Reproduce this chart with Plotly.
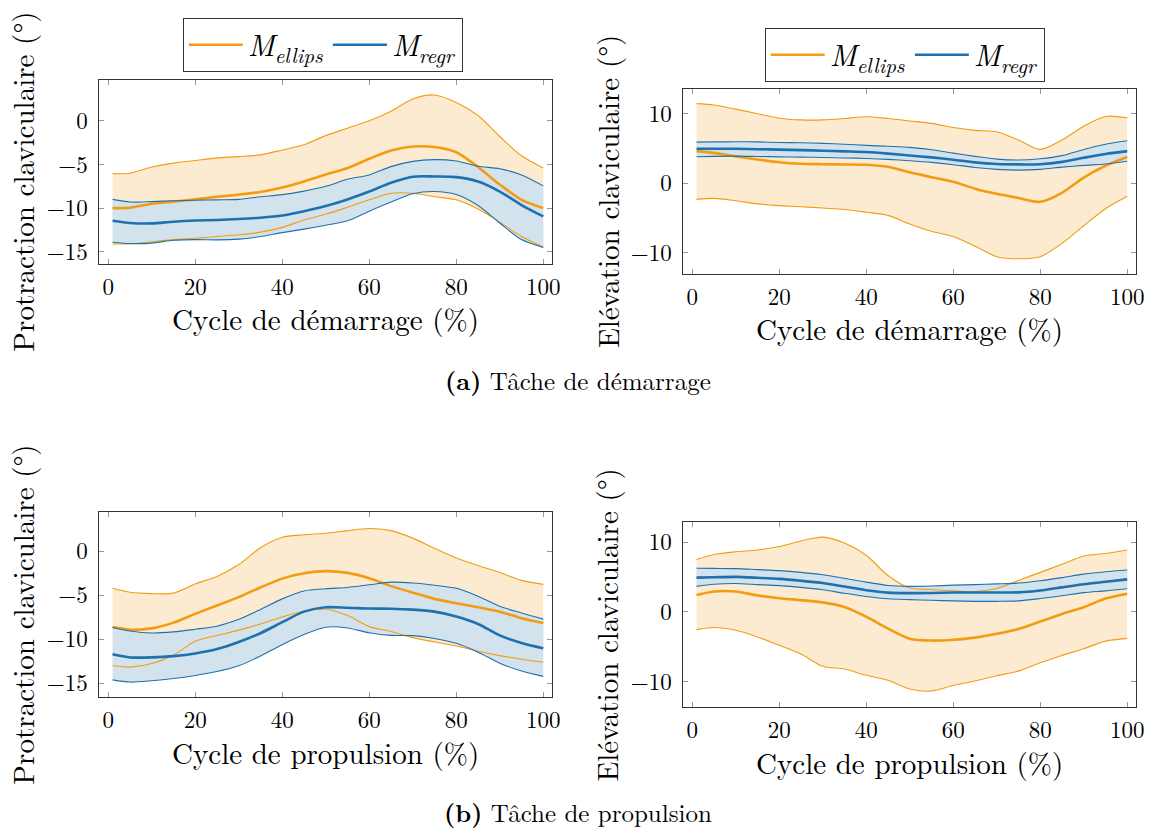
import plotly.graph_objects as go

# Percent of cycle where the curves are sampled
cycle = [1, 5, 10, 15, 20, 25, 30, 35, 40, 45, 50, 55, 60, 65, 70, 75, 80, 85, 90, 95, 100]

# (a) start-up task: clavicular protraction (deg)
dem_prot_ell_mean = [-10.0, -9.95, -9.5, -9.25, -9.0, -8.7, -8.45, -8.15, -7.65, -6.95, -6.15, -5.4, -4.35, -3.4, -2.95, -3.0, -3.6, -5.3, -7.3, -9.05, -10.0]
dem_prot_ell_up = [-6.05, -6.0, -5.3, -4.85, -4.55, -4.25, -4.1, -3.9, -3.35, -2.75, -1.7, -0.85, 0.0, 1.1, 2.5, 2.95, 2.1, 0.6, -1.8, -4.0, -5.4]
dem_prot_ell_lo = [-14.1, -14.1, -13.85, -13.6, -13.45, -13.25, -13.05, -12.75, -12.2, -11.35, -10.7, -9.9, -9.05, -8.3, -8.3, -8.7, -9.05, -10.1, -11.6, -13.25, -14.45]
dem_prot_reg_mean = [-11.45, -11.7, -11.75, -11.55, -11.42, -11.35, -11.25, -11.1, -10.85, -10.35, -9.75, -9.0, -8.1, -7.1, -6.4, -6.38, -6.45, -6.95, -8.1, -9.65, -10.95]
dem_prot_reg_up = [-9.0, -9.3, -9.25, -9.15, -9.1, -9.05, -9.0, -8.7, -8.45, -8.05, -7.5, -6.7, -6.2, -5.25, -4.65, -4.45, -4.6, -5.2, -5.5, -6.2, -7.45]
dem_prot_reg_lo = [-13.9, -14.05, -14.0, -13.68, -13.6, -13.63, -13.55, -13.25, -12.8, -12.4, -11.95, -11.45, -10.35, -9.3, -8.35, -8.1, -8.45, -9.7, -11.7, -13.6, -14.5]

# (a) start-up task: clavicular elevation (deg)
dem_elev_ell_mean = [4.6, 4.35, 3.85, 3.4, 3.0, 2.78, 2.72, 2.68, 2.64, 2.35, 1.55, 0.85, 0.2, -0.8, -1.55, -2.15, -2.7, -1.4, 0.8, 2.5, 3.75]
dem_elev_ell_up = [11.45, 11.25, 10.65, 10.0, 9.35, 9.1, 9.1, 9.3, 9.55, 9.3, 8.95, 8.6, 8.0, 7.6, 7.4, 6.2, 4.85, 6.2, 8.2, 9.6, 9.4]
dem_elev_ell_lo = [-2.35, -2.2, -2.55, -3.0, -3.25, -3.4, -3.6, -3.8, -4.2, -4.65, -5.9, -6.95, -7.7, -9.1, -10.6, -10.9, -10.6, -8.7, -6.15, -3.7, -1.9]
dem_elev_reg_mean = [4.95, 4.95, 4.94, 4.88, 4.82, 4.75, 4.66, 4.57, 4.47, 4.25, 3.97, 3.7, 3.37, 2.98, 2.75, 2.69, 2.72, 3.05, 3.65, 4.2, 4.6]
dem_elev_reg_up = [5.9, 5.93, 5.95, 5.93, 5.85, 5.8, 5.72, 5.6, 5.43, 5.3, 5.15, 4.8, 4.32, 3.85, 3.45, 3.32, 3.5, 3.95, 4.85, 5.6, 6.1]
dem_elev_reg_lo = [3.8, 3.85, 3.88, 3.83, 3.78, 3.74, 3.68, 3.62, 3.55, 3.42, 3.22, 2.98, 2.65, 2.25, 1.98, 1.87, 1.98, 2.3, 2.55, 2.75, 3.15]

# (b) propulsion task: clavicular protraction (deg)
pro_prot_ell_mean = [-8.6, -8.9, -8.75, -8.1, -7.1, -6.15, -5.2, -4.1, -3.1, -2.5, -2.25, -2.45, -3.05, -3.95, -4.7, -5.4, -5.9, -6.35, -6.85, -7.6, -8.15]
pro_prot_ell_up = [-4.2, -4.65, -4.8, -4.75, -3.7, -2.85, -1.5, 0.4, 1.6, 1.88, 2.05, 2.35, 2.6, 2.35, 1.5, 0.35, -0.75, -1.6, -2.4, -3.3, -3.75]
pro_prot_ell_lo = [-13.0, -13.15, -12.75, -11.8, -10.2, -9.55, -8.95, -8.25, -7.45, -6.8, -6.55, -7.3, -8.55, -9.1, -9.8, -10.3, -10.75, -11.35, -11.85, -12.25, -12.6]
pro_prot_reg_mean = [-11.7, -12.05, -12.05, -11.9, -11.6, -11.1, -10.3, -9.3, -8.05, -6.85, -6.35, -6.4, -6.5, -6.52, -6.62, -6.85, -7.4, -8.25, -9.55, -10.4, -11.0]
pro_prot_reg_up = [-8.65, -9.05, -9.28, -9.15, -8.85, -8.5, -7.72, -6.6, -5.4, -4.5, -4.25, -4.1, -3.8, -3.5, -3.6, -3.85, -4.2, -5.1, -6.25, -7.0, -7.7]
pro_prot_reg_lo = [-14.6, -14.85, -14.7, -14.45, -14.1, -13.65, -13.0, -11.9, -10.6, -9.45, -8.62, -8.7, -9.25, -9.55, -9.58, -9.9, -10.45, -11.45, -12.7, -13.6, -14.2]

# (b) propulsion task: clavicular elevation (deg)
pro_elev_ell_mean = [2.4, 2.9, 2.9, 2.35, 1.95, 1.67, 1.35, 0.7, -0.7, -2.4, -3.85, -4.12, -4.0, -3.7, -3.15, -2.45, -1.4, -0.3, 0.65, 1.9, 2.6]
pro_elev_ell_up = [7.5, 8.2, 8.6, 8.85, 9.35, 10.15, 10.7, 9.85, 8.1, 5.2, 3.4, 3.2, 3.0, 2.9, 3.35, 4.5, 5.65, 6.8, 8.0, 8.35, 8.85]
pro_elev_ell_lo = [-2.55, -2.25, -2.65, -3.6, -4.8, -6.05, -7.8, -8.2, -9.1, -9.8, -11.05, -11.35, -10.55, -9.9, -9.15, -8.5, -7.3, -6.25, -5.3, -4.2, -3.8]
pro_elev_reg_mean = [4.9, 4.95, 5.0, 4.88, 4.72, 4.45, 4.12, 3.62, 3.1, 2.75, 2.68, 2.7, 2.76, 2.76, 2.76, 2.78, 3.05, 3.5, 3.95, 4.3, 4.65]
pro_elev_reg_up = [6.24, 6.22, 6.19, 6.05, 5.9, 5.65, 5.3, 4.8, 4.25, 3.78, 3.65, 3.7, 3.82, 3.9, 4.0, 4.12, 4.45, 4.9, 5.4, 5.75, 6.0]
pro_elev_reg_lo = [3.65, 3.95, 4.05, 3.9, 3.75, 3.5, 3.15, 2.65, 2.2, 1.87, 1.75, 1.65, 1.57, 1.5, 1.5, 1.57, 1.9, 2.3, 2.75, 3.0, 3.3]

x_ticks = [0, 20, 40, 60, 80, 100]
prot_ticks = [-15, -10, -5, 0]
elev_ticks = [-10, 0, 10]

label_ell = "<i>M</i><sub><i>ellips</i></sub>"
label_reg = "<i>M</i><sub><i>regr</i></sub>"

ORANGE = "#F39C12"
BLUE = "#1F71AD"
ORANGE_FILL = "#FCEBD1"
BLUE_FILL = "#D3E3EE"
FONT = "Latin Modern Roman, CMU Serif, Liberation Serif, serif"

W, H = 1165, 834


def px_x(v):
    return v / W


def px_y(v):
    return 1 - v / H


# panel boxes in pixels: (left, right, top, bottom)
panels = [
    dict(box=(100, 556, 80, 265), yr=[-16.4, 4.7], ticks=prot_ticks, ytitle="Protraction claviculaire (°)",
         xtitle="Cycle de démarrage (%)", legend="legend",
         data=(dem_prot_ell_mean, dem_prot_ell_up, dem_prot_ell_lo, dem_prot_reg_mean, dem_prot_reg_up, dem_prot_reg_lo)),
    dict(box=(688, 1144, 89, 275), yr=[-13.1, 13.6], ticks=elev_ticks, ytitle="Elévation claviculaire (°)",
         xtitle="Cycle de démarrage (%)", legend="legend2",
         data=(dem_elev_ell_mean, dem_elev_ell_up, dem_elev_ell_lo, dem_elev_reg_mean, dem_elev_reg_up, dem_elev_reg_lo)),
    dict(box=(100, 556, 514, 700), yr=[-16.6, 4.45], ticks=prot_ticks, ytitle="Protraction claviculaire (°)",
         xtitle="Cycle de propulsion (%)", legend=None,
         data=(pro_prot_ell_mean, pro_prot_ell_up, pro_prot_ell_lo, pro_prot_reg_mean, pro_prot_reg_up, pro_prot_reg_lo)),
    dict(box=(688, 1144, 524, 710), yr=[-13.7, 12.85], ticks=elev_ticks, ytitle="Elévation claviculaire (°)",
         xtitle="Cycle de propulsion (%)", legend=None,
         data=(pro_elev_ell_mean, pro_elev_ell_up, pro_elev_ell_lo, pro_elev_reg_mean, pro_elev_reg_up, pro_elev_reg_lo)),
]

fig = go.Figure()
layout = dict(
    width=W, height=H, margin=dict(l=0, r=0, t=0, b=0),
    paper_bgcolor="white", plot_bgcolor="white",
    font=dict(family=FONT, color="black", size=23),
    annotations=[],
)

spline = dict(shape="spline", smoothing=0.8)

for i, p in enumerate(panels, start=1):
    xa, ya = f"x{i}", f"y{i}"
    l, r, t, b = p["box"]
    e_mean, e_up, e_lo, r_mean, r_up, r_lo = p["data"]
    leg = p["legend"] or "legend"

    # shaded bands: ellipsoid then regression
    for up, lo, fc in ((e_up, e_lo, ORANGE_FILL), (r_up, r_lo, BLUE_FILL)):
        fig.add_trace(go.Scatter(x=cycle, y=up, mode="lines", line=dict(width=0, **spline),
                                 showlegend=False, hoverinfo="skip", xaxis=xa, yaxis=ya, legend=leg))
        fig.add_trace(go.Scatter(x=cycle, y=lo, mode="lines", line=dict(width=0, **spline),
                                 fill="tonexty", fillcolor=fc, showlegend=False, hoverinfo="skip",
                                 xaxis=xa, yaxis=ya, legend=leg))

    # band limits and mean curves
    for mean, up, lo, col, name in ((e_mean, e_up, e_lo, ORANGE, label_ell), (r_mean, r_up, r_lo, BLUE, label_reg)):
        for yy in (up, lo):
            fig.add_trace(go.Scatter(x=cycle, y=yy, mode="lines", line=dict(color=col, width=1.1, **spline),
                                     showlegend=False, xaxis=xa, yaxis=ya, legend=leg))
        fig.add_trace(go.Scatter(x=cycle, y=mean, mode="lines", name=name,
                                 line=dict(color=col, width=2.6, **spline), xaxis=xa, yaxis=ya,
                                 showlegend=p["legend"] is not None, legend=leg))

    axis_common = dict(showline=True, linecolor="#333333", linewidth=1, mirror="ticks",
                       ticks="inside", ticklen=5, tickcolor="#9a9a9a", tickwidth=1,
                       showgrid=False, zeroline=False, tickfont=dict(size=23, family=FONT))
    layout[f"xaxis{i}"] = dict(domain=[px_x(l), px_x(r)], anchor=ya, range=[-2.05, 102.05],
                               tickvals=x_ticks, ticklabelstandoff=2, **axis_common)
    layout[f"yaxis{i}"] = dict(domain=[px_y(b), px_y(t)], anchor=xa, range=p["yr"],
                               tickvals=p["ticks"], ticklabelstandoff=6, **axis_common)

    cx = (l + r) / 2
    layout["annotations"].append(dict(text=p["xtitle"], x=px_x(cx), y=px_y(b + 54), xref="paper", yref="paper",
                                      xanchor="center", yanchor="middle", showarrow=False,
                                      font=dict(size=29, family=FONT)))
    ycx = 22 if l < 300 else 610
    layout["annotations"].append(dict(text=p["ytitle"], x=px_x(ycx), y=px_y((t + b) / 2 + 10), xref="paper",
                                      yref="paper", xanchor="center", yanchor="middle", textangle=-90,
                                      showarrow=False, font=dict(size=29, family=FONT)))

# sub-figure captions
for txt, yy in (("<b>(a)</b> Tâche de démarrage", 381), ("<b>(b)</b> Tâche de propulsion", 814)):
    layout["annotations"].append(dict(text=txt, x=px_x(582), y=px_y(yy), xref="paper", yref="paper",
                                      xanchor="center", yanchor="middle", showarrow=False,
                                      font=dict(size=25, family=FONT)))

legend_common = dict(orientation="h", xanchor="center", yanchor="bottom", bgcolor="white",
                     bordercolor="#333333", borderwidth=1, font=dict(size=30, family=FONT),
                     itemwidth=54, tracegroupgap=0, traceorder="normal")
layout["legend"] = dict(x=px_x(325), y=px_y(72), **legend_common)
layout["legend2"] = dict(x=px_x(911), y=px_y(82), **legend_common)

fig.update_layout(**layout)
fig.write_html("out.html")
